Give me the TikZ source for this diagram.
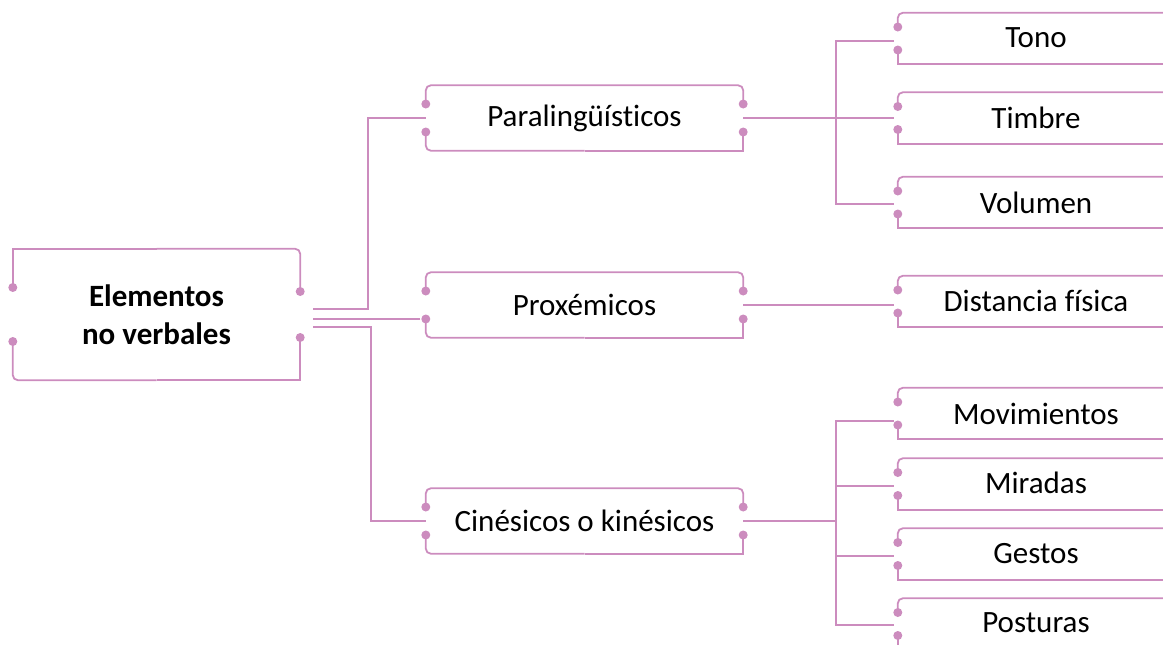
\documentclass[tikz,border=0pt]{standalone}
\usepackage{fontspec}
\setmainfont[Ligatures=NoCommon]{Carlito}
\usepackage{tikz}
\usetikzlibrary{calc}
\definecolor{lila}{RGB}{204, 140, 190}

\begin{document}
\begin{tikzpicture}[
  x=1pt, y=-1pt,
  link/.style={draw=lila, line width=1.8pt},
  pindot/.style={circle, fill=lila, inner sep=0pt, minimum size=9pt},
  rootbox/.style={minimum width=287pt, minimum height=131pt, inner sep=0pt,
                  align=center, font=\fontsize{31}{38}\selectfont\bfseries},
  midbox/.style={minimum width=317pt, minimum height=65pt, inner sep=0pt,
                 font=\fontsize{31}{36}\selectfont},
  leafbox/.style={minimum width=276pt, minimum height=51pt, inner sep=0pt,
                  font=\fontsize{31}{36}\selectfont}
]
  \useasboundingbox (0,0) rectangle (1163,645);
  \clip (0,0) rectangle (1163,645);

  \node[rootbox] (root) at (156.5,314.5) {Elementos\\no verbales};

  \node[midbox] (para) at (584.5,118) {\raisebox{2pt}{Paraling\"u\'isticos}};
  \node[midbox] (prox) at (584.5,305) {\raisebox{-3pt}{Prox\'emicos}};
  \node[midbox] (cine) at (584.5,521) {Cin\'esicos o kin\'esicos};

  \node[leafbox] (tono)    at (1036,38.5)  {\raisebox{2pt}{Tono}};
  \node[leafbox] (timbre)  at (1036,118)   {Timbre};
  \node[leafbox] (volumen) at (1036,202.5) {Volumen};
  \node[leafbox] (dist)    at (1036,301.5) {\raisebox{2pt}{Distancia f\'isica}};
  \node[leafbox] (mov)     at (1036,413.5) {Movimientos};
  \node[leafbox] (mir)     at (1036,484)   {\raisebox{2pt}{Miradas}};
  \node[leafbox] (gest)    at (1036,554)   {Gestos};
  \node[leafbox] (post)    at (1036,624)   {\raisebox{3pt}{Posturas}};

  % bracket outline of the root
  \draw[link] ([yshift=27pt]root.west) node[pindot] (root-lu) {} -- (root.north west) -- (root.north);
  \draw[link, rounded corners=5pt] (root.north) -- (root.north east) -- ([yshift=23pt]root.east) node[pindot] (root-ru) {};
  \draw[link, rounded corners=5pt] ([yshift=-27pt]root.west) node[pindot] (root-ld) {} -- (root.south west) -- (root.south);
  \draw[link] (root.south) -- (root.south east) -- ([yshift=-23pt]root.east) node[pindot] (root-rd) {};

  % bracket outlines of the middle boxes
  \foreach \n in {para, prox, cine} {
    \draw[link, rounded corners=5pt] ([yshift=14pt]\n.west) node[pindot] (\n-lu) {}
      -- (\n.north west) -- (\n.north east) -- ([yshift=14pt]\n.east) node[pindot] (\n-ru) {};
    \draw[link, rounded corners=5pt] ([yshift=-14pt]\n.west) node[pindot] (\n-ld) {}
      -- (\n.south west) -- (\n.south);
    \draw[link] (\n.south) -- (\n.south east) -- ([yshift=-14pt]\n.east) node[pindot] (\n-rd) {};
  }

  % open brackets of the leaves
  \foreach \n in {tono, timbre, volumen, dist, mov, mir, gest, post} {
    \draw[link, rounded corners=5pt] ([yshift=11.5pt]\n.west) node[pindot] {}
      -- (\n.north west) -- (\n.north east);
    \draw[link] ([yshift=-11.5pt]\n.west) node[pindot] {}
      -- (\n.south west) -- (\n.south east);
  }

  % root to middle level
  \coordinate (rout) at ([xshift=13pt]root.east);
  \draw[link] ([yshift=5.5pt]rout) -- ++(55pt,0) |- (para.west);
  \draw[link] (prox-ld) -- (prox-ld -| rout);
  \draw[link] ([yshift=-12.5pt]rout) -- ++(58pt,0) |- (cine.west);

  % middle level to leaves
  \coordinate (fork1) at ([xshift=93pt]para.east);
  \draw[link] (para.east) -- ([xshift=-4pt]timbre.west);
  \draw[link] ([xshift=-4pt,yshift=-2.5pt]tono.west) -| (fork1) |- ([xshift=-4pt,yshift=-1.5pt]volumen.west);

  \coordinate (dend) at ([xshift=-4pt]dist.west);
  \draw[link] (prox.east) -- (prox.east -| dend);

  \coordinate (fork2) at ([xshift=93pt]cine.east);
  \draw[link] (cine.east) -- (fork2);
  \draw[link] ([xshift=-4pt,yshift=-7.5pt]mov.west) -| (fork2) |- ([xshift=-4pt,yshift=-1pt]post.west);
  \foreach \n in {mir, gest}
    \draw[link] ([yshift=-2pt]fork2 |- \n.west) -- ([xshift=-4pt,yshift=-2pt]\n.west);
\end{tikzpicture}
\end{document}
